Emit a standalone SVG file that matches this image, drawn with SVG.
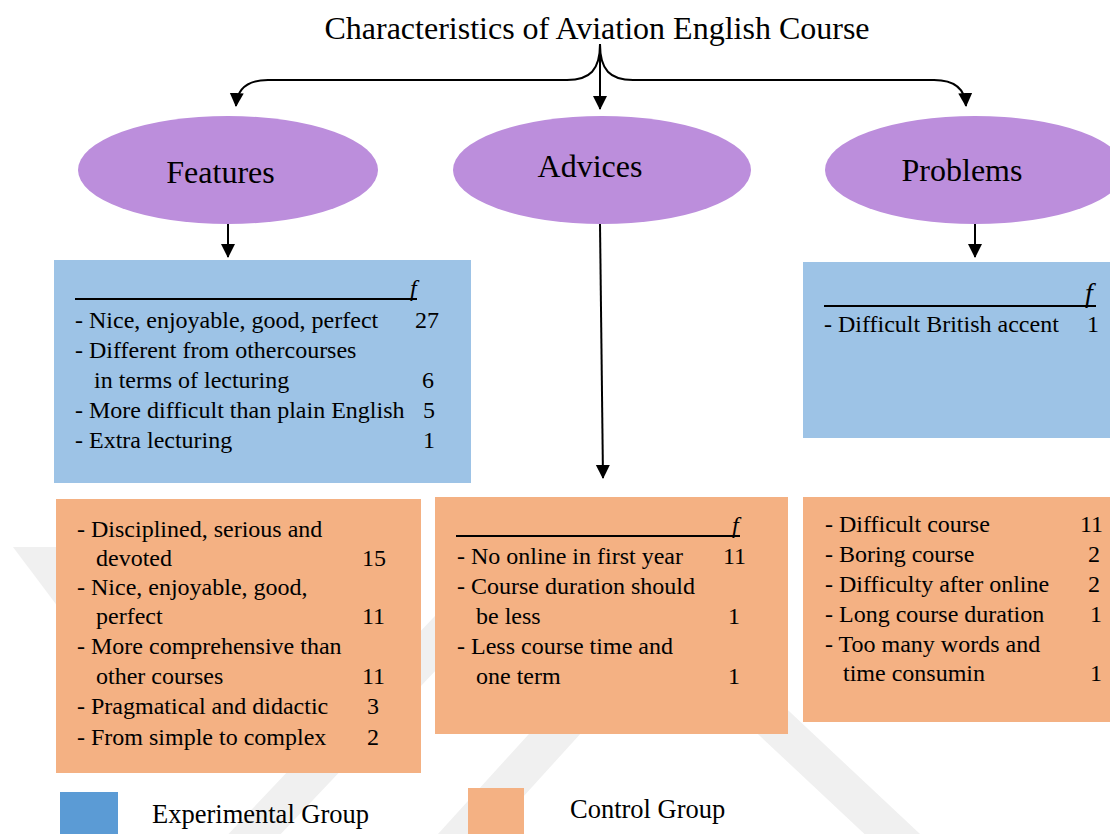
<svg xmlns="http://www.w3.org/2000/svg" width="1110" height="834" viewBox="0 0 1110 834">
  <style>
    .t { font-family: "Liberation Serif", "Times New Roman", serif; fill: #000; }
    .body { font-size: 24px; }
    .fi { font-style: italic; }
    .head { font-size: 32px; text-anchor: middle; }
    .exp { fill: #9DC3E6; }
    .ctl { fill: #F4B183; }
    .oval { fill: #BC8EDC; }
    .rule { stroke: #000; stroke-width: 2; }
    .wm { stroke: #F0F0F0; stroke-width: 38; fill: none; }
    .conn { stroke: #000; stroke-width: 2; fill: none; }
  </style>
  <defs>
    <marker id="arrow" markerWidth="14" markerHeight="16" refX="13" refY="7" orient="auto" markerUnits="userSpaceOnUse">
      <path d="M0,0 L14,7 L0,14 Z" fill="#000"/>
    </marker>
  </defs>

  <rect width="1110" height="834" fill="#FFFFFF"/>

  <!-- faint background emblem -->
  <g id="emblem">
    <polygon points="13,547 75,547 190,700 128,700" fill="#F0F0F0"/>
    <line class="wm" x1="552" y1="520" x2="230" y2="860"/>
    <line class="wm" x1="640" y1="640" x2="440" y2="860"/>
    <line class="wm" x1="600" y1="560" x2="920" y2="860"/>
  </g>

  <!-- title -->
  <text id="title" class="t" x="597" y="39" font-size="32" text-anchor="middle">Characteristics of Aviation English Course</text>

  <!-- connectors -->
  <g id="connectors">
    <path class="conn" d="M600,44 C600,70 590,80 567,80 L268,80 C248,80 237,88 236,106" marker-end="url(#arrow)"/>
    <path class="conn" d="M600,44 L600,109" marker-end="url(#arrow)"/>
    <path class="conn" d="M600,44 C600,70 610,80 633,80 L934,80 C954,80 965,88 966,106" marker-end="url(#arrow)"/>
    <path class="conn" d="M228,224 L228,257" marker-end="url(#arrow)"/>
    <path class="conn" d="M600,224 L603,478" marker-end="url(#arrow)"/>
    <path class="conn" d="M975,224 L975,257" marker-end="url(#arrow)"/>
  </g>

  <!-- category ovals -->
  <g id="features">
    <ellipse class="oval" cx="228" cy="170" rx="150" ry="54"/>
    <text class="t head" x="220.5" y="183">Features</text>
  </g>
  <g id="advices">
    <ellipse class="oval" cx="602" cy="170" rx="149" ry="54"/>
    <text class="t head" x="590" y="177" font-size="28.5">Advices</text>
  </g>
  <g id="problems">
    <ellipse class="oval" cx="975" cy="170" rx="150" ry="54"/>
    <text class="t head" x="962" y="181">Problems</text>
  </g>

  <!-- features: experimental group -->
  <g id="features-exp">
    <rect class="exp" x="54" y="260" width="417" height="223"/>
    <line class="rule" x1="75" y1="299" x2="417" y2="299"/>
    <text class="t body fi" x="410" y="296">f</text>
    <text class="t body" x="75" y="327.5">- Nice, enjoyable, good, perfect</text>
    <text class="t body" x="415" y="327.5">27</text>
    <text class="t body" x="75" y="357.5">- Different from othercourses</text>
    <text class="t body" x="94" y="387.5">in terms of lecturing</text>
    <text class="t body" x="422" y="387.5">6</text>
    <text class="t body" x="75" y="417.5">- More difficult than plain English</text>
    <text class="t body" x="423" y="417.5">5</text>
    <text class="t body" x="75" y="447.5">- Extra lecturing</text>
    <text class="t body" x="423" y="447.5">1</text>
  </g>

  <!-- problems: experimental group -->
  <g id="problems-exp">
    <rect class="exp" x="803" y="262" width="307" height="176"/>
    <line class="rule" x1="824" y1="306" x2="1096" y2="306"/>
    <text class="t fi" x="1085" y="302" font-size="28">f</text>
    <text class="t body" x="824" y="332">- Difficult British accent</text>
    <text class="t body" x="1087" y="332">1</text>
  </g>

  <!-- features: control group -->
  <g id="features-ctl">
    <rect class="ctl" x="56" y="499" width="365" height="274"/>
    <text class="t body" x="77" y="537">- Disciplined, serious and</text>
    <text class="t body" x="96" y="565.5">devoted</text>
    <text class="t body" x="362" y="565.5">15</text>
    <text class="t body" x="77" y="594.5">- Nice, enjoyable, good,</text>
    <text class="t body" x="96" y="623.5">perfect</text>
    <text class="t body" x="362" y="623.5">11</text>
    <text class="t body" x="77" y="654">- More comprehensive than</text>
    <text class="t body" x="96" y="683.5">other courses</text>
    <text class="t body" x="362" y="683.5">11</text>
    <text class="t body" x="77" y="714">- Pragmatical and didactic</text>
    <text class="t body" x="367" y="714">3</text>
    <text class="t body" x="77" y="745">- From simple to complex</text>
    <text class="t body" x="367" y="745">2</text>
  </g>

  <!-- advices: control group -->
  <g id="advices-ctl">
    <rect class="ctl" x="435" y="497" width="353" height="237"/>
    <line class="rule" x1="456" y1="536" x2="740" y2="536"/>
    <text class="t body fi" x="732" y="533">f</text>
    <text class="t body" x="457" y="564">- No online in first year</text>
    <text class="t body" x="723" y="564">11</text>
    <text class="t body" x="457" y="594">- Course duration should</text>
    <text class="t body" x="476" y="623.5">be less</text>
    <text class="t body" x="728" y="623.5">1</text>
    <text class="t body" x="457" y="654">- Less course time and</text>
    <text class="t body" x="476" y="684">one term</text>
    <text class="t body" x="728" y="684">1</text>
  </g>

  <!-- problems: control group -->
  <g id="problems-ctl">
    <rect class="ctl" x="803" y="497" width="307" height="225"/>
    <text class="t body" x="825" y="532">- Difficult course</text>
    <text class="t body" x="1080" y="532">11</text>
    <text class="t body" x="825" y="562">- Boring course</text>
    <text class="t body" x="1088" y="562">2</text>
    <text class="t body" x="825" y="592">- Difficulty after online</text>
    <text class="t body" x="1088" y="592">2</text>
    <text class="t body" x="825" y="622">- Long course duration</text>
    <text class="t body" x="1090" y="622">1</text>
    <text class="t body" x="825" y="652">- Too many words and</text>
    <text class="t body" x="843" y="681">time consumin</text>
    <text class="t body" x="1090" y="681">1</text>
  </g>

  <!-- legend -->
  <g id="legend">
    <rect x="60" y="792" width="58" height="42" fill="#5B9BD5"/>
    <text class="t" x="152" y="823" font-size="26.5">Experimental Group</text>
    <rect class="ctl" x="468" y="788" width="56" height="46"/>
    <text class="t" x="570" y="818" font-size="26.5">Control Group</text>
  </g>
</svg>
